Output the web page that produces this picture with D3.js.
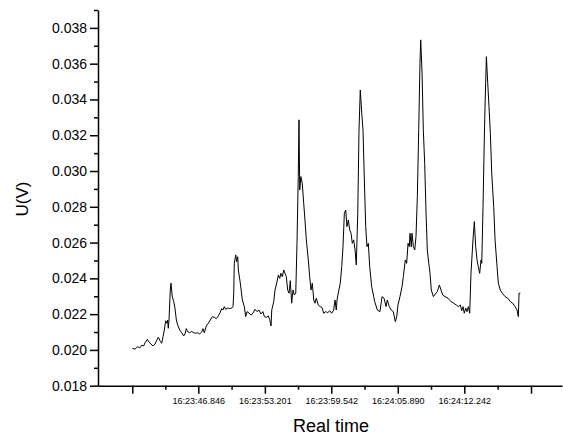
<!DOCTYPE html>
<html>
<head>
<meta charset="utf-8">
<script src="https://cdn.jsdelivr.net/npm/d3@7"></script>
<style>
  html, body { margin: 0; padding: 0; background: #fff; }
  svg { display: block; font-family: Arial, "Liberation Sans", sans-serif; }
</style>
</head>
<body>
<div id="chart"></div>
<script>
// time = seconds after 16:23:00, voltage in mV
const times = [
  40.55, 40.80, 41.06, 41.25, 41.44, 41.63, 41.76, 41.98, 42.14, 42.33,
  42.52, 42.71, 42.90, 43.03, 43.22, 43.35, 43.48, 43.60, 43.73, 43.86,
  43.92, 43.98, 44.05, 44.17, 44.24, 44.36, 44.50, 44.62, 44.75, 44.88,
  45.07, 45.26, 45.45, 45.58, 45.70, 45.83, 46.03, 46.22, 46.41, 46.60,
  46.79, 46.98, 47.17, 47.30, 47.42, 47.61, 47.80, 47.99, 48.18, 48.37,
  48.57, 48.76, 48.95, 49.08, 49.20, 49.33, 49.46, 49.65, 49.84, 50.04,
  50.16, 50.23, 50.28, 50.42, 50.51, 50.61, 50.67, 50.86, 51.05, 51.24,
  51.37, 51.50, 51.69, 51.88, 52.07, 52.26, 52.45, 52.64, 52.83, 53.02,
  53.15, 53.34, 53.53, 53.66, 53.79, 53.86, 54.05, 54.17, 54.36, 54.49,
  54.62, 54.74, 54.87, 55.00, 55.12, 55.25, 55.38, 55.51, 55.63, 55.76,
  55.89, 56.01, 56.15, 56.27, 56.39, 56.46, 56.53, 56.64, 56.77, 56.91,
  57.03, 57.16, 57.35, 57.48, 57.61, 57.73, 57.87, 57.99, 58.11, 58.30,
  58.49, 58.66, 58.82, 59.01, 59.20, 59.39, 59.58, 59.77, 59.90, 60.02,
  60.09, 60.21, 60.40, 60.54, 60.66, 60.79, 60.92, 61.04, 61.17, 61.30,
  61.43, 61.55, 61.68, 61.81, 61.93, 62.07, 62.19, 62.31, 62.45, 62.57,
  62.70, 62.83, 62.95, 63.08, 63.21, 63.40, 63.59, 63.69, 63.94, 64.19,
  64.39, 64.58, 64.77, 64.89, 65.08, 65.27, 65.46, 65.66, 65.79, 65.91,
  66.10, 66.30, 66.42, 66.61, 66.74, 66.87, 66.99, 67.06, 67.18, 67.25,
  67.38, 67.51, 67.63, 67.76, 67.89, 68.01, 68.08, 68.21, 68.33, 68.46,
  68.59, 68.71, 68.85, 68.97, 69.09, 69.29, 69.48, 69.67, 69.86, 70.02,
  70.18, 70.40, 70.69, 70.97, 71.23, 71.48, 71.67, 71.86, 72.00, 72.12,
  72.24, 72.38, 72.50, 72.63, 72.76, 72.88, 73.07, 73.20, 73.33, 73.46,
  73.58, 73.71, 73.84, 73.91, 74.03, 74.15, 74.22, 74.35, 74.48, 74.60,
  74.73, 74.86, 75.05, 75.18, 75.37, 75.49, 75.68, 75.87, 76.13, 76.39,
  76.64, 76.86, 77.09, 77.28, 77.40, 77.47, 77.59
];
const voltages = [
  20.09, 20.04, 20.18, 20.11, 20.26, 20.22, 20.40, 20.59, 20.44, 20.33,
  20.22, 20.33, 20.56, 20.71, 20.48, 20.37, 20.74, 21.11, 21.63, 21.49,
  21.67, 21.21, 21.67, 23.35, 23.73, 22.98, 22.70, 22.33, 21.67, 21.39,
  21.11, 20.96, 20.78, 20.89, 21.19, 21.02, 20.96, 21.04, 20.96, 20.93,
  20.96, 20.89, 21.00, 21.19, 20.96, 21.34, 21.49, 21.67, 21.86, 21.82,
  21.75, 21.90, 22.12, 22.31, 22.23, 22.42, 22.27, 22.34, 22.31, 22.34,
  22.42, 23.17, 24.84, 25.31, 24.93, 25.21, 24.47, 23.73, 22.79, 22.42,
  21.86, 22.14, 22.06, 21.95, 22.06, 22.27, 22.14, 22.23, 22.01, 22.14,
  21.86, 21.82, 21.90, 21.71, 21.34, 22.23, 22.70, 23.35, 23.81, 24.19,
  24.00, 24.28, 24.09, 24.47, 24.28, 24.09, 23.35, 23.17, 23.87, 22.61,
  23.35, 23.07, 23.17, 25.96, 29.69, 32.86, 28.94, 29.69, 29.32, 28.20,
  27.26, 26.15, 25.03, 24.09, 23.35, 23.73, 22.79, 22.61, 22.89, 22.51,
  22.42, 22.37, 22.05, 22.14, 22.08, 22.19, 22.05, 22.23, 22.79, 22.23,
  22.79, 23.17, 23.73, 24.65, 25.77, 27.64, 27.82, 26.89, 27.26, 26.71,
  26.52, 25.96, 26.15, 25.59, 24.75, 27.64, 32.30, 34.53, 33.23, 32.30,
  29.50, 26.89, 25.77, 25.96, 24.65, 23.54, 22.98, 22.70, 22.23, 22.14,
  22.98, 22.89, 22.42, 22.79, 22.42, 22.23, 22.14, 21.58, 21.86, 22.51,
  22.98, 23.54, 24.09, 25.03, 24.84, 25.96, 25.77, 26.52, 25.77, 26.52,
  25.77, 25.59, 26.33, 28.57, 32.30, 36.03, 37.33, 35.47, 32.30, 30.43,
  27.64, 25.59, 24.84, 24.28, 23.35, 22.98, 23.13, 23.26, 23.63, 23.35,
  23.07, 22.98, 22.89, 22.70, 22.61, 22.51, 22.42, 22.51, 22.19, 22.42,
  22.05, 22.34, 22.14, 22.42, 22.05, 24.28, 26.15, 27.17, 25.77, 25.03,
  24.65, 24.28, 25.03, 24.84, 28.01, 31.74, 33.60, 36.39, 34.91, 33.60,
  32.11, 29.88, 28.01, 26.15, 24.65, 23.73, 23.35, 23.17, 22.98, 22.89,
  22.70, 22.61, 22.42, 22.23, 21.86, 23.17, 23.17
];

const xTickTimes = [40.545, 46.846, 53.201, 59.542, 65.890, 72.242, 78.61];
const xTickLabels = ["", "16:23:46.846", "16:23:53.201", "16:23:59.542", "16:24:05.890", "16:24:12.242", ""];
const yTicks = [0.018, 0.020, 0.022, 0.024, 0.026, 0.028, 0.030, 0.032, 0.034, 0.036, 0.038];
const yMinorTicks = [0.019, 0.021, 0.023, 0.025, 0.027, 0.029, 0.031, 0.033, 0.035, 0.037, 0.039];

const width = 563;
const height = 435;
const margin = {top: 10, right: 1, bottom: 49.3, left: 98};

const data = times.map((t, i) => ({t: t, v: voltages[i] / 1000}));

const svg = d3.select("#chart").append("svg")
  .attr("width", width)
  .attr("height", height)
  .attr("viewBox", [0, 0, width, height]);

const x = d3.scaleLinear([37.27, 81.57], [margin.left, width - margin.right]);
const y = d3.scaleLinear([0.018, 0.039], [height - margin.bottom, margin.top]);

// minor x ticks halfway between the majors
const xMinor = d3.range(xTickTimes.length - 1).map(i => (xTickTimes[i] + xTickTimes[i + 1]) / 2);

const gx = svg.append("g")
  .attr("transform", `translate(0,${height - margin.bottom})`);
gx.call(d3.axisBottom(x).tickValues(xTickTimes).tickFormat((d, i) => xTickLabels[i])
    .tickSize(8).tickSizeOuter(0).tickPadding(4));
gx.append("g").call(d3.axisBottom(x).tickValues(xMinor).tickFormat("").tickSize(4).tickSizeOuter(0))
  .select(".domain").remove();
gx.selectAll("text").attr("font-size", 9).attr("fill", "#000").attr("font-family", "Arial, 'Liberation Sans', sans-serif");

const gy = svg.append("g")
  .attr("transform", `translate(${margin.left},0)`);
gy.call(d3.axisLeft(y).tickValues(yTicks).tickFormat(d3.format(".3f"))
    .tickSize(8).tickSizeOuter(0).tickPadding(3));
gy.append("g").call(d3.axisLeft(y).tickValues(yMinorTicks).tickFormat("").tickSize(4).tickSizeOuter(0))
  .select(".domain").remove();
gy.selectAll("text").attr("font-size", 14).attr("fill", "#000").attr("font-family", "Arial, 'Liberation Sans', sans-serif");

svg.selectAll(".domain, .tick line")
  .attr("stroke", "#000")
  .attr("stroke-width", 1.5);

const line = d3.line()
  .x(d => x(d.t))
  .y(d => y(d.v));

svg.append("path")
  .datum(data)
  .attr("fill", "none")
  .attr("stroke", "#000")
  .attr("stroke-width", 1)
  .attr("stroke-linejoin", "round")
  .attr("d", line);

// axis titles
svg.append("text")
  .attr("x", (margin.left + width - margin.right) / 2 + 1)
  .attr("y", 432)
  .attr("text-anchor", "middle")
  .attr("font-size", 18)
  .text("Real time");

svg.append("text")
  .attr("transform", `translate(28,199) rotate(-90)`)
  .attr("text-anchor", "middle")
  .attr("font-size", 17)
  .text("U(V)");
</script>
</body>
</html>
